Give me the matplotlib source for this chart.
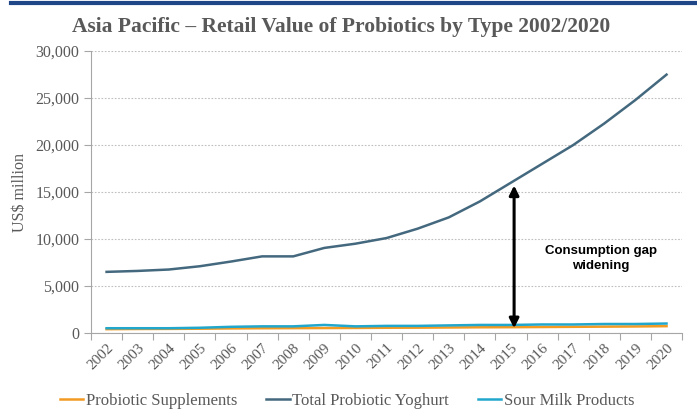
import matplotlib.pyplot as plt
import numpy as np
from matplotlib.ticker import FuncFormatter

years = [str(y) for y in range(2002, 2021)]
supplements = [400, 420, 430, 450, 480, 500, 510, 520, 530, 550, 560, 580,
               600, 610, 630, 650, 670, 690, 720]
yoghurt = [6500, 6600, 6750, 7100, 7600, 8150, 8150, 9050, 9500, 10100,
           11100, 12300, 14000, 16000, 18000, 20000, 22300, 24800, 27500]
sour_milk = [500, 500, 500, 550, 650, 700, 700, 850, 700, 750, 750, 800,
             850, 850, 900, 900, 950, 950, 1000]

gap_x = 13.1
gap_low, gap_high = 500, 15700

grey = '#595959'
serif = 'Liberation Serif'

fig = plt.figure(figsize=(6.97, 4.09), dpi=100)
ax = fig.add_axes([0.1306, 0.186, 0.848, 0.689])

x = np.arange(len(years))
ax.plot(x, supplements, color='#F39A22', lw=1.8, label='Probiotic Supplements', zorder=3)
ax.plot(x, yoghurt, color='#44697F', lw=1.8, label='Total Probiotic Yoghurt', zorder=3)
ax.plot(x, sour_milk, color='#22A7CC', lw=1.8, label='Sour Milk Products', zorder=3)

ax.set_xlim(-0.5, len(years) - 0.5)
ax.set_ylim(0, 30000)
ax.set_yticks(np.arange(0, 30001, 5000))
ax.yaxis.set_major_formatter(FuncFormatter(lambda v, p: f'{int(v):,}'))
ax.grid(axis='y', color='#BFBFBF', ls=(0, (1.5, 1.5)), lw=0.8)
ax.set_axisbelow(True)

# category ticks sit on the boundaries, labels at the centres
ax.set_xticks(np.arange(-0.5, len(years)), minor=False)
ax.set_xticklabels([])
ax.set_xticks(x, minor=True)
ax.set_xticklabels(years, minor=True, rotation=45, ha='right',
                   rotation_mode='anchor', fontsize=11, color=grey, family=serif)
ax.tick_params(axis='x', which='minor', length=0, pad=6)
ax.tick_params(axis='x', which='major', length=5, color='#A6A6A6', direction='out')
ax.tick_params(axis='y', length=5, color='#A6A6A6', labelsize=11.5, labelcolor=grey)
for lbl in ax.get_yticklabels():
    lbl.set_family(serif)

for s in ['top', 'right']:
    ax.spines[s].set_visible(False)
ax.spines['left'].set_color('#A6A6A6')
ax.spines['bottom'].set_color('#A6A6A6')

ax.set_ylabel('US$ million', fontsize=11.5, color=grey, family=serif, labelpad=5)

ax.annotate('', xy=(gap_x, gap_high), xytext=(gap_x, gap_low),
            arrowprops=dict(arrowstyle='<|-|>', color='black', lw=2.2,
                            mutation_scale=14, shrinkA=0, shrinkB=0), zorder=4)
ax.text(15.9, 7900, 'Consumption gap\nwidening', ha='center', va='center',
        fontsize=9.5, fontweight='bold', family='Liberation Sans', linespacing=1.35)

fig.text(0.489, 1 - 32 / 409, 'Asia Pacific \u2013 Retail Value of Probiotics by Type 2002/2020',
         ha='center', va='baseline', fontsize=15.5, fontweight='bold', color=grey, family=serif)

# navy rule along the top edge
fig.add_artist(plt.Line2D([0.016, 1.0], [0.992, 0.992], color='#1F4788', lw=3))

leg = fig.legend(loc='center', bbox_to_anchor=(0.498, 1 - 401 / 409), ncol=3,
                 frameon=False, handlelength=1.4, handletextpad=0.15, columnspacing=1.75,
                 borderpad=0, prop={'family': serif, 'size': 12})
for t in leg.get_texts():
    t.set_color(grey)

fig.savefig('out.png', dpi=100)
